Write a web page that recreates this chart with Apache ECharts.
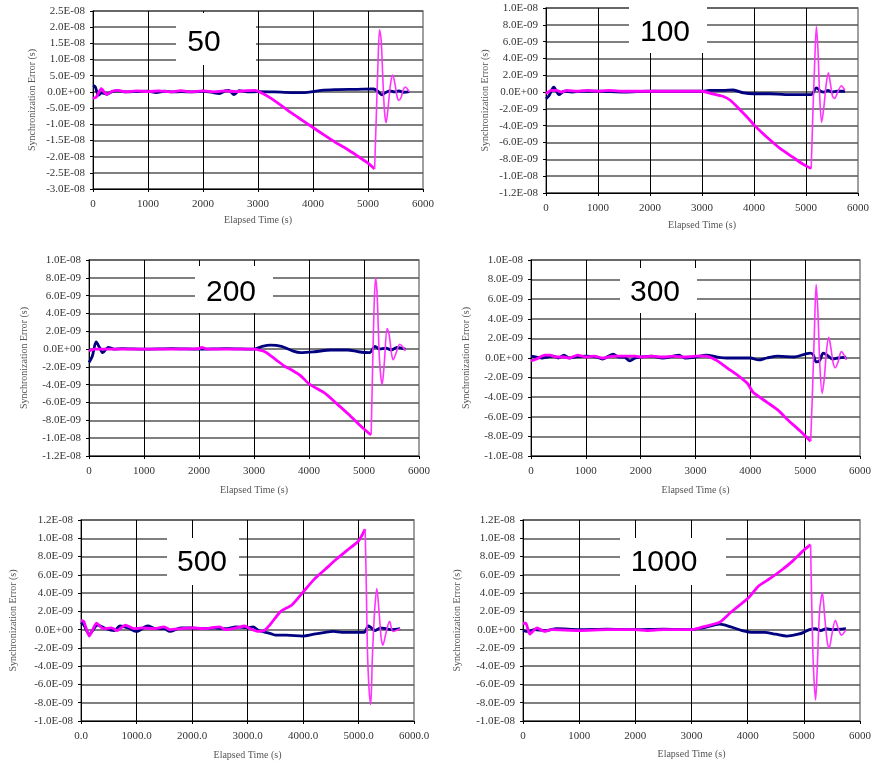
<!DOCTYPE html>
<html><head><meta charset="utf-8">
<script src="https://cdn.jsdelivr.net/npm/echarts@6/dist/echarts.min.js"></script>
<style>html,body{margin:0;padding:0;background:#fff}#c{width:874px;height:765px}</style>
</head><body><div id="c"></div>
<script>
// All y values in units of 1e-9 s; x values in seconds (Elapsed Time)
const panelTitles = ['50', '100', '200', '300', '500', '1000'];
const xTicks = [0, 1000, 2000, 3000, 4000, 5000, 6000];

const p50Blue = [[0,2.0],[40,1.6],[100,-1.0],[160,-0.3],[250,-0.7],[350,0.1],[450,0.3],[600,0.0],[800,0.1],[1000,0.2],[1150,-0.2],[1300,0.2],[1450,0.0],[1600,0.1],[1800,0.0],[2000,0.2],[2150,-0.1],[2300,-0.5],[2400,0.3],[2470,0.5],[2560,-0.8],[2660,0.4],[2800,0.0],[3000,0.1],[3300,0.0],[3600,-0.2],[3850,-0.2],[4000,0.1],[4150,0.5],[4400,0.7],[4800,0.8],[5100,0.9],[5180,0.2],[5250,-0.9],[5320,-0.2],[5400,0.3],[5480,0.0],[5560,0.3],[5650,-0.1],[5750,0.1]];
const p50Mag = [[0,-2.0],[60,-1.6],[150,1.0],[250,-0.8],[350,0.2],[450,0.5],[600,0.0],[800,0.3],[1000,0.1],[1200,0.3],[1400,0.0],[1600,0.4],[1800,0.0],[2000,0.3],[2200,0.0],[2400,0.3],[2600,0.1],[2800,0.4],[2950,0.5],[3050,-0.2],[3200,-1.6],[3400,-3.9],[3600,-6.4],[3800,-8.7],[4000,-11.0],[4200,-13.3],[4400,-15.5],[4600,-17.5],[4800,-19.7],[5000,-22.0],[5120,-23.8]];
const p50MagOsc = [[5120,-23.8],[5150,-8],[5180,8],[5210,19.2],[5240,16],[5270,4],[5300,-6],[5330,-9.5],[5370,-4],[5410,2.5],[5450,5.2],[5490,2.5],[5530,-1.5],[5560,-2.6],[5600,-1.8],[5640,0.6],[5680,1.5],[5720,0.8],[5750,0.0]];

const p100Blue = [[0,-0.8],[60,-0.4],[150,0.6],[250,-0.3],[350,0.1],[500,0.0],[700,0.1],[1000,0.1],[1500,0.0],[2000,0.1],[2500,0.1],[3000,0.1],[3150,0.2],[3400,0.2],[3600,0.25],[3800,-0.1],[4000,-0.2],[4300,-0.2],[4600,-0.3],[4900,-0.3],[5100,-0.3],[5200,0.5],[5280,0.1],[5350,0.0],[5420,0.2],[5500,0.0],[5600,0.1],[5750,0.1]];
const p100Mag = [[0,-0.2],[100,0.2],[200,0.2],[300,0.0],[400,0.2],[600,0.1],[800,0.2],[1000,0.1],[1200,0.2],[1500,0.1],[2000,0.1],[2500,0.1],[3000,0.1],[3200,-0.2],[3400,-0.5],[3550,-1.0],[3730,-2.1],[3870,-3.0],[4000,-3.9],[4150,-4.8],[4310,-5.7],[4500,-6.7],[4760,-7.8],[4950,-8.6],[5100,-9.1]];
const p100MagOsc = [[5100,-9.1],[5130,-3],[5170,4],[5200,7.8],[5230,5],[5260,0],[5300,-3.6],[5340,-2],[5390,1],[5430,2.3],[5470,1],[5510,-0.5],[5550,-0.75],[5610,0],[5680,0.75],[5720,0.5],[5750,0.2]];

const p200Blue = [[0,-1.5],[60,-0.8],[130,0.8],[190,0.2],[250,-0.4],[350,0.2],[450,0.0],[600,0.05],[1000,0.0],[1500,0.05],[2000,0.0],[2500,0.05],[3000,0.0],[3150,0.3],[3300,0.45],[3500,0.3],[3700,-0.2],[3850,-0.4],[4100,-0.3],[4400,-0.1],[4700,-0.1],[4900,-0.3],[5100,-0.4],[5200,0.3],[5280,0.0],[5400,0.1],[5500,-0.1],[5600,0.2],[5750,0.0]];
const p200Mag = [[0,-0.2],[100,0.0],[300,0.0],[600,0.0],[1000,0.0],[1500,0.0],[2000,0.05],[2050,0.2],[2150,0.0],[2500,0.0],[3000,0.0],[3200,-0.3],[3400,-1.2],[3550,-1.9],[3700,-2.4],[3850,-3.0],[4000,-3.9],[4300,-5.0],[4500,-6.1],[4700,-7.2],[4900,-8.4],[5100,-9.5],[5130,-9.6]];
const p200MagOsc = [[5130,-9.6],[5150,-4],[5180,4],[5210,8.0],[5240,6],[5280,-1],[5330,-4.0],[5370,-1.5],[5420,2.3],[5460,1.5],[5500,-0.5],[5530,-1.2],[5580,-0.5],[5650,0.55],[5700,0.3],[5750,-0.2]];

const p300Blue = [[0,0.2],[100,0.1],[200,0.0],[300,0.1],[400,0.2],[500,0.0],[600,0.3],[700,0.0],[800,0.1],[1000,0.2],[1200,0.1],[1300,-0.1],[1500,0.4],[1600,0.1],[1700,0.1],[1800,-0.3],[1900,0.0],[2000,0.1],[2200,0.2],[2400,0.0],[2600,0.2],[2700,0.3],[2800,0.0],[3000,0.1],[3200,0.3],[3400,0.1],[3600,0.0],[3800,0.0],[4000,0.0],[4150,-0.2],[4300,0.0],[4500,0.2],[4800,0.1],[5000,0.4],[5100,0.5],[5150,0.3],[5200,-0.4],[5260,-0.3],[5330,0.5],[5400,0.3],[5500,-0.1],[5600,0.0],[5750,0.1]];
const p300Mag = [[0,-0.3],[100,-0.1],[250,0.3],[350,0.3],[450,0.1],[600,0.1],[700,0.0],[850,0.3],[1000,0.1],[1150,0.2],[1300,0.0],[1500,0.2],[1700,0.2],[1900,0.2],[2000,0.1],[2200,0.2],[2400,0.1],[2600,0.2],[2800,0.1],[3000,0.2],[3200,0.2],[3300,0.0],[3400,-0.3],[3600,-1.1],[3800,-1.9],[3950,-2.6],[4050,-3.5],[4300,-4.5],[4500,-5.3],[4700,-6.4],[4900,-7.4],[5100,-8.5]];
const p300MagOsc = [[5100,-8.5],[5130,-4],[5170,3],[5200,7.5],[5230,5],[5270,-1],[5310,-3.6],[5350,-2],[5390,0.8],[5430,2.1],[5470,1],[5510,-0.5],[5550,-1.0],[5600,-0.4],[5660,0.65],[5710,0.3],[5750,-0.2]];

const p500Blue = [[0,0.8],[50,0.5],[150,-0.5],[300,0.5],[450,0.1],[600,-0.1],[700,0.4],[850,0.2],[1000,-0.2],[1200,0.4],[1350,0.1],[1500,0.1],[1600,-0.2],[1800,0.2],[2000,0.2],[2200,0.1],[2400,0.2],[2600,0.1],[2800,0.3],[3000,0.2],[3100,0.3],[3200,-0.1],[3400,-0.4],[3500,-0.6],[3700,-0.6],[4000,-0.7],[4200,-0.5],[4400,-0.3],[4550,-0.2],[4700,-0.3],[5000,-0.3],[5100,-0.3],[5180,0.4],[5250,0.1],[5300,-0.1],[5400,0.2],[5500,0.1],[5600,0.0],[5750,0.1]];
const p500Mag = [[0,1.0],[50,0.9],[150,-0.7],[280,0.7],[400,0.1],[550,0.2],[650,-0.1],[800,0.5],[950,0.1],[1100,0.2],[1300,0.1],[1500,0.3],[1600,0.0],[1800,0.1],[2000,0.2],[2200,0.1],[2500,0.3],[2600,0.0],[2800,0.2],[2950,0.4],[3050,0.1],[3200,-0.2],[3300,-0.1],[3400,0.5],[3600,2.0],[3800,2.7],[4000,4.1],[4200,5.5],[4400,6.6],[4600,7.7],[4800,8.7],[5000,9.7],[5120,11.0]];
const p500MagOsc = [[5120,11.0],[5140,5],[5160,-2],[5190,-6.5],[5220,-8.2],[5250,-3],[5290,2],[5330,4.5],[5370,2],[5410,-1],[5440,-1.7],[5490,-0.5],[5560,0.9],[5620,-0.2],[5680,-0.1],[5750,0.1]];

const p1000Blue = [[0,-0.1],[100,-0.2],[200,0.0],[400,-0.1],[600,0.1],[1000,0.0],[1500,0.05],[2000,0.0],[2500,0.05],[3000,0.0],[3200,0.2],[3400,0.5],[3500,0.6],[3700,0.3],[3900,-0.1],[4100,-0.3],[4300,-0.3],[4500,-0.5],[4700,-0.7],[4900,-0.5],[5000,-0.3],[5100,0.0],[5200,0.1],[5300,-0.1],[5400,0.1],[5500,0.0],[5750,0.1]];
const p1000Mag = [[0,0.7],[50,0.7],[120,-0.5],[250,0.2],[380,-0.2],[500,0.0],[1000,-0.1],[1500,0.0],[2000,0.0],[2200,-0.1],[2500,0.0],[3000,0.0],[3200,0.3],[3500,0.8],[3700,1.9],[4000,3.4],[4200,4.8],[4400,5.6],[4600,6.5],[4800,7.5],[5000,8.7],[5120,9.3]];
const p1000MagOsc = [[5120,9.3],[5140,3],[5170,-4],[5210,-7.7],[5240,-4],[5280,2],[5330,4.0],[5370,1.5],[5420,-1.5],[5450,-2.0],[5500,-0.5],[5560,1.0],[5620,0.0],[5670,-0.6],[5750,0.0]];

// y-axis ranges (1e-9 s)
const yMin = [-30, -12, -12, -10, -10, -10];
const yMax = [25, 10, 10, 10, 12, 12];
const yStep = [5, 2, 2, 2, 2, 2];

const blues = [p50Blue, p100Blue, p200Blue, p300Blue, p500Blue, p1000Blue];
const mags = [p50Mag, p100Mag, p200Mag, p300Mag, p500Mag, p1000Mag];
const magOsc = [p50MagOsc, p100MagOsc, p200MagOsc, p300MagOsc, p500MagOsc, p1000MagOsc];

// layout
const grids = [
  {left: 93, top: 11, width: 330, height: 178, xGap: 26, yGap: 56, box: [176, 13, 80, 52], txt: [204, 43]},
  {left: 546, top: 8, width: 312, height: 185, xGap: 27, yGap: 56, box: [629, 6, 78, 47], txt: [665, 33]},
  {left: 89, top: 260, width: 330, height: 196, xGap: 29, yGap: 60, box: [195, 266, 78, 47], txt: [231, 293]},
  {left: 531, top: 260, width: 332, height: 196, xGap: 29, yGap: 60, box: [620, 268, 77, 45], txt: [655, 293]},
  {left: 81, top: 520, width: 333, height: 201, xGap: 29, yGap: 63, box: [167, 538, 72, 47], txt: [202, 563]},
  {left: 523, top: 520, width: 340, height: 201, xGap: 28, yGap: 61, box: [620, 538, 106, 47], txt: [664, 563]}
];

function sciLabel(v) {
  const s = (v * 1e-9).toExponential(1);
  const m = s.split('e');
  let exp = parseInt(m[1], 10);
  const sign = exp < 0 ? '-' : '+';
  exp = Math.abs(exp);
  return m[0] + 'E' + sign + (exp < 10 ? '0' + exp : '' + exp);
}

const labelFont = 'Liberation Serif';
const option = {
  animation: false,
  backgroundColor: '#fff',
  grid: [], xAxis: [], yAxis: [], series: [], graphic: []
};

grids.forEach((g, i) => {
  option.grid.push({left: g.left, top: g.top, width: g.width, height: g.height,
    show: true, borderColor: '#808080', borderWidth: 1.5, backgroundColor: 'transparent'});
  option.xAxis.push({
    type: 'value', gridIndex: i, min: xTicks[0], max: xTicks[xTicks.length - 1], interval: 1000,
    name: 'Elapsed Time (s)', nameLocation: 'middle', nameGap: g.xGap,
    nameTextStyle: {fontFamily: labelFont, fontSize: 10, color: '#555'},
    axisLine: {show: true, onZero: false, lineStyle: {color: '#000', width: 1}},
    axisTick: {show: true, length: 3, lineStyle: {color: '#000'}},
    axisLabel: {fontFamily: labelFont, fontSize: 11, color: '#333', margin: 10,
      formatter: i === 4 ? (v => v.toFixed(1)) : (v => String(v))},
    splitLine: {show: true, showMaxLine: false, showMinLine: false, lineStyle: {color: '#000', width: 1}}
  });
  option.yAxis.push({
    type: 'value', gridIndex: i, min: yMin[i], max: yMax[i], interval: yStep[i],
    name: 'Synchronization Error (s)', nameLocation: 'middle', nameGap: g.yGap,
    nameTextStyle: {fontFamily: labelFont, fontSize: 10, color: '#555'},
    axisLine: {show: true, onZero: false, lineStyle: {color: '#000', width: 1}},
    axisTick: {show: true, length: 3, lineStyle: {color: '#000'}},
    axisLabel: {fontFamily: labelFont, fontSize: 11, color: '#333', margin: 8, formatter: sciLabel},
    splitLine: {show: true, lineStyle: {color: '#555', width: 1.5}}
  });
  option.series.push({
    type: 'line', xAxisIndex: i, yAxisIndex: i, data: blues[i], showSymbol: false, smooth: 0.3,
    lineStyle: {color: '#000080', width: 2.8}, z: 3
  });
  option.series.push({
    type: 'line', xAxisIndex: i, yAxisIndex: i, data: mags[i], showSymbol: false, smooth: 0.2,
    lineStyle: {color: '#ff00ff', width: 2.8}, z: 4
  });
  option.series.push({
    type: 'line', xAxisIndex: i, yAxisIndex: i, data: magOsc[i], showSymbol: false, smooth: 0.3,
    lineStyle: {color: '#ff33ff', width: 1.6}, z: 4
  });
  option.graphic.push({
    type: 'rect', z: 100, shape: {x: g.box[0], y: g.box[1], width: g.box[2], height: g.box[3]},
    style: {fill: '#fff'}
  });
  option.graphic.push({
    type: 'text', z: 101, x: g.txt[0], y: g.txt[1],
    style: {text: panelTitles[i], fill: '#000', font: '30px "Liberation Sans", Arial, sans-serif',
      align: 'center', verticalAlign: 'middle'}
  });
});

const chart = echarts.init(document.getElementById('c'), null, {renderer: 'canvas'});
chart.setOption(option);
</script>
</body></html>
